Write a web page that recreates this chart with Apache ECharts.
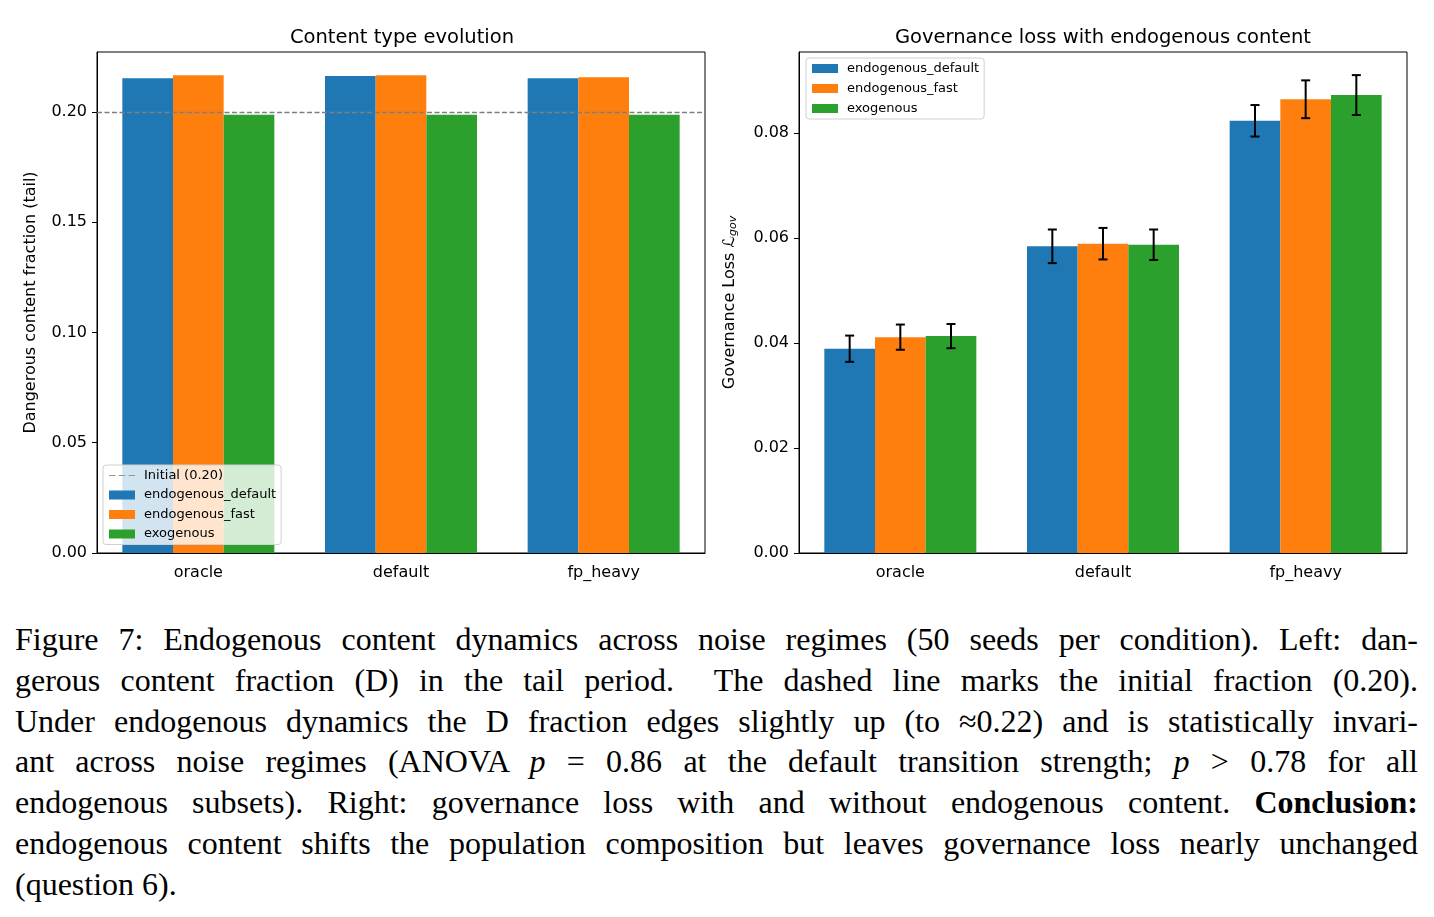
<!DOCTYPE html>
<html>
<head>
<meta charset="utf-8">
<script src="https://cdn.jsdelivr.net/npm/echarts@6/dist/echarts.min.js"></script>
<style>
  body { margin: 0; background: #fff; }
  #chart { position: absolute; left: 0; top: 0; width: 1434px; height: 600px; }
  #caption {
    position: absolute; left: 15px; top: 619px; width: 1403px;
    font-family: "Liberation Serif", serif; font-size: 32px; line-height: 40.8px; color: #000;
  }
  #caption .ln { text-align: justify; text-align-last: justify; white-space: normal; }
  #caption .last { text-align: left; text-align-last: left; }
</style>
</head>
<body>
<div id="chart"></div>
<div id="caption">
  <div class="ln">Figure 7: Endogenous content dynamics across noise regimes (50 seeds per condition). Left: dan-</div>
  <div class="ln">gerous content fraction (D) in the tail period.&nbsp; The dashed line marks the initial fraction (0.20).</div>
  <div class="ln">Under endogenous dynamics the D fraction edges slightly up (to ≈0.22) and is statistically invari-</div>
  <div class="ln">ant across noise regimes (ANOVA <i>p</i> = 0.86 at the default transition strength; <i>p</i> &gt; 0.78 for all</div>
  <div class="ln">endogenous subsets). Right: governance loss with and without endogenous content. <b>Conclusion:</b></div>
  <div class="ln">endogenous content shifts the population composition but leaves governance loss nearly unchanged</div>
  <div class="ln last">(question 6).</div>
</div>
<script>
  var regimes = ['oracle', 'default', 'fp_heavy'];
  var seriesNames = ['endogenous_default', 'endogenous_fast', 'exogenous'];
  var colors = ['#1f77b4', '#ff7f0e', '#2ca02c'];

  // left: dangerous content fraction (tail)
  var fracDefault = [0.2153, 0.2163, 0.2153];
  var fracFast = [0.2166, 0.2166, 0.2157];
  var fracExo = [0.1988, 0.1988, 0.1988];
  var initialFrac = 0.20;

  // right: governance loss mean and error
  var lossDefault = [0.0389, 0.0584, 0.0823];
  var lossFast = [0.0411, 0.0589, 0.0864];
  var lossExo = [0.0413, 0.0587, 0.0872];
  var errDefault = [0.0025, 0.0032, 0.0030];
  var errFast = [0.0024, 0.0030, 0.0036];
  var errExo = [0.0023, 0.0029, 0.0038];

  var font = 'DejaVu Sans';
  var chart = echarts.init(document.getElementById('chart'));

  function makeErr(k) {
    return function (params, api) {
      var ci = api.value(0), v = api.value(1), e = api.value(2);
      var band = api.size([1, 0])[0];
      var x = api.coord([ci, v])[0] + (k - 1) * band * 0.25;
      var yTop = api.coord([ci, v + e])[1];
      var yBot = api.coord([ci, v - e])[1];
      var st = { stroke: '#000', lineWidth: 2 };
      return {
        type: 'group',
        children: [
          { type: 'line', shape: { x1: x, y1: yTop, x2: x, y2: yBot }, style: st },
          { type: 'line', shape: { x1: x - 4.5, y1: yTop, x2: x + 4.5, y2: yTop }, style: st },
          { type: 'line', shape: { x1: x - 4.5, y1: yBot, x2: x + 4.5, y2: yBot }, style: st }
        ]
      };
    };
  }

  function catAxis(idx) {
    return {
      type: 'category', gridIndex: idx, data: regimes,
      axisLine: { lineStyle: { color: '#000', width: 1 } },
      axisTick: { alignWithLabel: true, length: 5, lineStyle: { color: '#000' } },
      axisLabel: { color: '#000', fontFamily: font, fontSize: 16, margin: 12 }
    };
  }

  function valAxis(idx, max, interval, name, gap, rich) {
    return {
      type: 'value', gridIndex: idx, min: 0, max: max, interval: interval,
      name: name, nameLocation: 'middle', nameGap: gap,
      nameTextStyle: { color: '#000', fontFamily: font, fontSize: 16, rich: rich },
      splitLine: { show: false },
      axisLine: { show: true, lineStyle: { color: '#000', width: 1 } },
      axisTick: { show: true, length: 5, lineStyle: { color: '#000' } },
      axisLabel: {
        color: '#000', fontFamily: font, fontSize: 16, margin: 10, showMaxLabel: false,
        formatter: function (v) { return v.toFixed(2); }
      }
    };
  }

  var fracData = [fracDefault, fracFast, fracExo];
  var lossData = [lossDefault, lossFast, lossExo];
  var errData = [errDefault, errFast, errExo];

  var series = [];
  for (var k = 0; k < 3; k++) {
    series.push({
      name: seriesNames[k], type: 'bar', xAxisIndex: 0, yAxisIndex: 0,
      data: fracData[k], barWidth: '25%', barGap: '0%',
      itemStyle: { color: colors[k] }
    });
  }
  series.push({
    name: 'Initial (0.20)', type: 'scatter', xAxisIndex: 0, yAxisIndex: 0, data: [],
    itemStyle: { color: '#7f7f7f' },
    markLine: {
      silent: true, symbol: 'none', label: { show: false },
      lineStyle: { color: '#7f7f7f', type: [5, 2.5], width: 1.3 },
      data: [{ yAxis: initialFrac }]
    }
  });
  for (var k = 0; k < 3; k++) {
    series.push({
      name: seriesNames[k], type: 'bar', xAxisIndex: 1, yAxisIndex: 1,
      data: lossData[k], barWidth: '25%', barGap: '0%',
      itemStyle: { color: colors[k] }
    });
  }
  for (var k = 0; k < 3; k++) {
    var d = [];
    for (var i = 0; i < regimes.length; i++) d.push([i, lossData[k][i], errData[k][i]]);
    series.push({
      name: 'err' + k, type: 'custom', xAxisIndex: 1, yAxisIndex: 1, z: 10,
      data: d, encode: { x: 0, y: 1 }, renderItem: makeErr(k), silent: true
    });
  }

  var dashIcon = 'path://M0,0H6V1H0Z M9,0H15V1H9Z M18,0H24V1H18Z';
  var legendBase = {
    orient: 'vertical', itemWidth: 26, itemHeight: 9,
    backgroundColor: 'rgba(255,255,255,0.8)', borderColor: '#d0d0d0', borderWidth: 1,
    borderRadius: 3, padding: [4, 5, 4, 6],
    textStyle: { color: '#000', fontFamily: font, fontSize: 13, padding: [0, 0, 0, 4] }
  };

  chart.setOption({
    animation: false,
    title: [
      { text: 'Content type evolution', left: 397, top: 23, textAlign: 'center',
        textStyle: { color: '#000', fontFamily: font, fontSize: 19.5, fontWeight: 'normal' } },
      { text: 'Governance loss with endogenous content', left: 1098, top: 23, textAlign: 'center',
        textStyle: { color: '#000', fontFamily: font, fontSize: 19.5, fontWeight: 'normal' } }
    ],
    legend: [
      Object.assign({}, legendBase, {
        left: 103, top: 465, itemGap: 6.5,
        data: [
          { name: 'Initial (0.20)', icon: dashIcon, itemStyle: { color: '#7f7f7f' } },
          { name: seriesNames[0], icon: 'rect' },
          { name: seriesNames[1], icon: 'rect' },
          { name: seriesNames[2], icon: 'rect' }
        ]
      }),
      Object.assign({}, legendBase, {
        left: 806, top: 58, itemGap: 7,
        data: [
          { name: seriesNames[0], icon: 'rect' },
          { name: seriesNames[1], icon: 'rect' },
          { name: seriesNames[2], icon: 'rect' }
        ]
      })
    ],
    grid: [
      { left: 97, top: 52, width: 608, height: 501, show: true, borderColor: '#000', borderWidth: 1, outerBoundsMode: 'none' },
      { left: 799, top: 52, width: 608, height: 501, show: true, borderColor: '#000', borderWidth: 1, outerBoundsMode: 'none' }
    ],
    xAxis: [catAxis(0), catAxis(1)],
    yAxis: [
      valAxis(0, 0.2272, 0.05, 'Dangerous content fraction (tail)', 58),
      valAxis(1, 0.0954, 0.02, 'Governance Loss {l|ℒ}{s|gov}', 60, {
        l: { fontFamily: font, fontSize: 16, fontStyle: 'italic', color: '#000' },
        s: { fontFamily: font, fontSize: 11, fontStyle: 'italic', color: '#000', verticalAlign: 'bottom', padding: [8, 0, 0, 0] }
      })
    ],
    series: series
  });
</script>
</body>
</html>
